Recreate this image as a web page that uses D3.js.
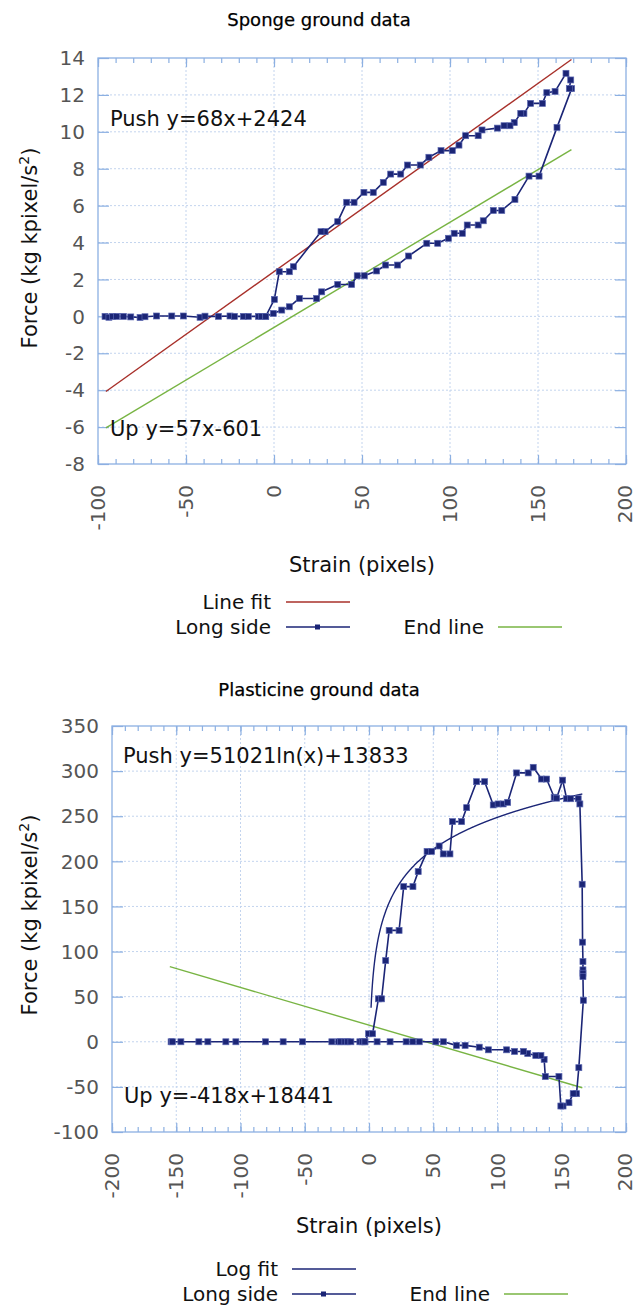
<!DOCTYPE html>
<html><head><meta charset="utf-8">
<script src="https://cdn.jsdelivr.net/npm/d3@7"></script>
<style>body{margin:0;background:#fff}svg{display:block}text{font-family:"DejaVu Sans",sans-serif}</style>
</head><body>
<script>
// ---------- Sponge ground data ----------
const spongeStrain = [-96,-93.8,-91.7,-89.4,-85.6,-81.4,-76.1,-73.3,-66.7,-58.1,-51.5,-42,-39.2,-31.6,-25,-22.5,-17.4,-14.6,-8.9,-7,-4.7,
  -0.4,4.4,8.7,14.4,24.2,27.1,36.2,44.1,47.3,51.3,58.3,63.4,70.2,76.5,86.8,93,99.1,102.4,107,109.8,116,118.9,124.6,129.4,136.9,144.9,150.6,160.8,169.1,167.8,168.6,165.9,
  159.7,155,152.5,145.8,142,140.2,136.5,134.1,130.7,126.9,118.2,116,108.9,105.1,101.3,94.9,88,83.1,75.9,72,66.3,62.1,56.4,51.1,45.5,41.3,36.2,29,26.7,11,8.7,3,0.2,-4.7];
const spongeForce = [0,-0.05,0,0,0,-0.03,-0.06,-0.02,0.02,0.02,0.02,-0.05,0.01,0,0.02,0,0,0,0,0,0,
  0.16,0.34,0.52,0.97,0.97,1.33,1.73,1.73,2.2,2.2,2.46,2.78,2.78,3.27,3.96,3.96,4.23,4.5,4.5,4.95,4.95,5.18,5.74,5.74,6.34,7.6,7.6,10.24,12.34,12.34,12.81,13.17,
  12.19,12.12,11.54,11.54,11.0,11.0,10.5,10.33,10.33,10.2,10.1,9.79,9.79,9.28,8.98,8.98,8.62,8.2,8.2,7.71,7.71,7.26,6.72,6.72,6.18,6.18,5.13,4.59,4.59,2.69,2.42,2.42,0.92,0];
const spongeXTicks = [-100,-50,0,50,100,150,200];
const spongeYTicks = [-8,-6,-4,-2,0,2,4,6,8,10,12,14];
const spongePushFit = [68, 2424];     // y = a x + b  (shown in kg pixel/s^2)
const spongeUpFit = [57, -601];
const spongeFitRange = [-95.5, 169];

// ---------- Plasticine ground data ----------
const plastStrain = [-154,-153,-146.4,-132.4,-125.4,-111.4,-103.6,-80.5,-66.8,-51.7,-28.9,-23.7,-22.1,-18.8,-16.7,-14.1,-7.1,-5.3,-3.2,
  -0.3,2.8,7.3,9.8,13.0,15.7,23.4,27,34.2,38.3,45.2,48.7,54.6,57.8,63,65,72.1,76,83.7,90,96.7,100.5,104.4,107.9,114.9,123.9,127.8,134.3,138.2,144.1,146,150.7,153.8,156.9,162.8,164.1,
  165.9,166.2,166.5,166.5,166.5,166.5,166.8,163.3,161.5,158.9,155.6,151,149.3,147.8,137.2,136.3,133.8,129.8,123.5,120.2,113.3,107.1,92.9,85.8,74.8,68,57.9,52,39.1,34.1,28.9,16.4,6.3,-3.2];
const plastForce = [0,0,0,0,0,0,0,0,0,0,0,0,0,0,0,0,0,0,0,
  8.9,8.9,47.6,47.6,90,123.5,123.5,172,172,188.6,211,211,217,208.2,208.2,244,244,259.5,288.3,288.3,262.5,263.6,263.6,265.4,298,298,304.2,291.2,291.2,271,270,290,269.4,269.4,269.4,263.6,
  174.6,110.4,88.9,79.7,76,72.3,46,-28.7,-57.5,-57.5,-67.5,-71.2,-71.2,-38.5,-38.5,-19.5,-15.2,-15.2,-13,-10.7,-10.7,-8.9,-8.9,-6,-4,-4,0,0,0,0,0,0,0,0];
const plastXTicks = [-200,-150,-100,-50,0,50,100,150,200];
const plastYTicks = [-100,-50,0,50,100,150,200,250,300,350];
const plastLogFit = [51021, 13833];   // y = a ln(x) + b
const plastLogRange = [1.6, 166];
const plastUpFit = [-418, 18441];
const plastUpRange = [-155, 166];

const NAVY = "#1b2576", RED = "#a8302a", GREEN = "#78b443", FRAME = "#8cb0e2", GRID = "#c3d4ee", TICKTXT = "#555";

const svg = d3.select("body").append("svg").attr("width", 636).attr("height", 1307);

function drawChart(o) {
  const g = svg.append("g");
  const x = d3.scaleLinear().domain(o.xDom).range([o.left, o.right]);
  const y = d3.scaleLinear().domain(o.yDom).range([o.bottom, o.top]);

  // grid
  g.selectAll(".gx").data(o.xTicks.slice(1, -1)).join("line")
    .attr("x1", d => x(d)).attr("x2", d => x(d)).attr("y1", o.top).attr("y2", o.bottom)
    .attr("stroke", GRID).attr("stroke-width", 1).attr("stroke-dasharray", "2,2");
  g.selectAll(".gy").data(o.yTicks.slice(1, -1)).join("line")
    .attr("y1", d => y(d)).attr("y2", d => y(d)).attr("x1", o.left).attr("x2", o.right)
    .attr("stroke", GRID).attr("stroke-width", 1).attr("stroke-dasharray", "2,2");

  // axes (ticks inward, both sides)
  const minor = d3.range(o.xDom[0], o.xDom[1] + 0.001, 10);
  const axB = d3.axisTop(x).tickValues(minor).tickSize(5).tickFormat("");
  const axT = d3.axisBottom(x).tickValues(minor).tickSize(5).tickFormat("");
  const axBM = d3.axisTop(x).tickValues(o.xTicks).tickSize(9).tickFormat("");
  const axTM = d3.axisBottom(x).tickValues(o.xTicks).tickSize(9).tickFormat("");
  const axL = d3.axisRight(y).tickValues(o.yTicks).tickSize(11).tickFormat("");
  const axR = d3.axisLeft(y).tickValues(o.yTicks).tickSize(11).tickFormat("");
  [[axB, `translate(0,${o.bottom})`], [axBM, `translate(0,${o.bottom})`], [axT, `translate(0,${o.top})`], [axTM, `translate(0,${o.top})`],
   [axL, `translate(${o.left},0)`], [axR, `translate(${o.right},0)`]].forEach(([a, t]) => {
    const s = g.append("g").attr("transform", t).call(a);
    s.select(".domain").remove();
    s.selectAll("line").attr("stroke", FRAME).attr("stroke-width", 1.2);
  });
  g.append("rect").attr("x", o.left).attr("y", o.top).attr("width", o.right - o.left).attr("height", o.bottom - o.top)
    .attr("fill", "none").attr("stroke", FRAME).attr("stroke-width", 1.3);

  // tick labels
  g.selectAll(".yl").data(o.yTicks).join("text")
    .attr("x", o.left - 13).attr("y", d => y(d)).attr("dy", "0.36em").attr("text-anchor", "end")
    .attr("fill", TICKTXT).attr("font-size", 20).text(d => d);
  g.selectAll(".xl").data(o.xTicks).join("text")
    .attr("transform", d => `translate(${Math.min(x(d), 625)},${o.bottom + 21}) rotate(-90)`)
    .attr("dy", "0.36em").attr("text-anchor", "end")
    .attr("fill", TICKTXT).attr("font-size", 20).text(d => d);

  // titles
  g.append("text").attr("x", 319).attr("y", o.titleY).attr("text-anchor", "middle").attr("font-size", 18)
    .attr("fill", "#000").attr("stroke", "#000").attr("stroke-width", 0.25).text(o.title);
  g.append("text").attr("x", (o.left + o.right) / 2).attr("y", o.xTitleY).attr("text-anchor", "middle")
    .attr("font-size", 21).attr("fill", "#111").text("Strain (pixels)");
  const yt = g.append("text").attr("transform", `translate(37,${o.yTitleY}) rotate(-90)`).attr("text-anchor", "middle")
    .attr("font-size", 21).attr("fill", "#111");
  yt.append("tspan").text("Force (kg kpixel/s");
  yt.append("tspan").attr("baseline-shift", "super").attr("font-size", 14).text("2");
  yt.append("tspan").text(")");

  const clipId = "clip" + o.id;
  svg.append("clipPath").attr("id", clipId).append("rect")
    .attr("x", o.left).attr("y", o.top).attr("width", o.right - o.left).attr("height", o.bottom - o.top);
  const pg = g.append("g").attr("clip-path", `url(#${clipId})`);

  // fits
  o.fits.forEach(f => {
    pg.append("path").datum(f.xs).attr("fill", "none").attr("stroke", f.color).attr("stroke-width", 1.4)
      .attr("d", d3.line().x(d => x(d)).y(d => y(f.fn(d))));
  });

  // series
  const pts = o.sx.map((v, i) => [v, o.sy[i]]);
  pg.append("path").datum(pts).attr("fill", "none").attr("stroke", NAVY).attr("stroke-width", 1.6)
    .attr("stroke-linejoin", "round").attr("d", d3.line().x(d => x(d[0])).y(d => y(d[1])));
  pg.selectAll(".m").data(pts).join("rect")
    .attr("x", d => x(d[0]) - 3).attr("y", d => y(d[1]) - 3).attr("width", 6).attr("height", 6)
    .attr("fill", NAVY).attr("stroke", "#5a66b0").attr("stroke-width", 0.7);

  // annotations
  o.notes.forEach(n => g.append("text").attr("x", n.x).attr("y", n.y).attr("font-size", 21).attr("fill", "#111").text(n.t));

  // legend
  const L = o.legend;
  const leg = g.append("g");
  const item = (label, tx, lx, ly, color, marker) => {
    leg.append("text").attr("x", tx).attr("y", ly).attr("dy", "0.36em").attr("text-anchor", "end")
      .attr("font-size", 20).attr("fill", "#111").text(label);
    leg.append("line").attr("x1", lx).attr("x2", lx + 64).attr("y1", ly).attr("y2", ly)
      .attr("stroke", color).attr("stroke-width", 1.4);
    if (marker) leg.append("rect").attr("x", lx + 29).attr("y", ly - 2.5).attr("width", 5).attr("height", 5).attr("fill", NAVY);
  };
  item(o.fitLabel, L.tx1, L.lx1, L.y1, o.fitColor, false);
  item("Long side", L.tx1, L.lx1, L.y2, NAVY, true);
  item("End line", L.tx2, L.lx2, L.y2, GREEN, false);
}

const lin = (c) => (v) => (c[0] * v + c[1]) / 1000;

drawChart({
  id: "a", title: "Sponge ground data", titleY: 26,
  xDom: [-100, 200], yDom: [-8, 14], left: 98, right: 626, top: 58, bottom: 464,
  xTicks: spongeXTicks, yTicks: spongeYTicks, sx: spongeStrain, sy: spongeForce,
  xTitleY: 572, yTitleY: 248,
  fits: [
    { xs: spongeFitRange, fn: lin(spongePushFit), color: RED },
    { xs: spongeFitRange, fn: lin(spongeUpFit), color: GREEN }
  ],
  notes: [{ x: 110, y: 126, t: "Push y=68x+2424" }, { x: 110, y: 436, t: "Up y=57x-601" }],
  fitLabel: "Line fit", fitColor: RED,
  legend: { tx1: 271, lx1: 286, tx2: 484, lx2: 498, y1: 602, y2: 627 }
});

drawChart({
  id: "b", title: "Plasticine ground data", titleY: 696,
  xDom: [-200, 200], yDom: [-100, 350], left: 112, right: 626, top: 726, bottom: 1132,
  xTicks: plastXTicks, yTicks: plastYTicks, sx: plastStrain, sy: plastForce,
  xTitleY: 1233, yTitleY: 915,
  fits: [
    { xs: d3.range(plastLogRange[0], plastLogRange[1], 0.2).concat([plastLogRange[1]]),
      fn: v => (plastLogFit[0] * Math.log(v) + plastLogFit[1]) / 1000, color: NAVY },
    { xs: plastUpRange, fn: lin(plastUpFit), color: GREEN }
  ],
  notes: [{ x: 123, y: 763, t: "Push y=51021ln(x)+13833" }, { x: 124, y: 1103, t: "Up y=-418x+18441" }],
  fitLabel: "Log fit", fitColor: NAVY,
  legend: { tx1: 278, lx1: 292, tx2: 490, lx2: 504, y1: 1269, y2: 1294 }
});
</script>
</body></html>
